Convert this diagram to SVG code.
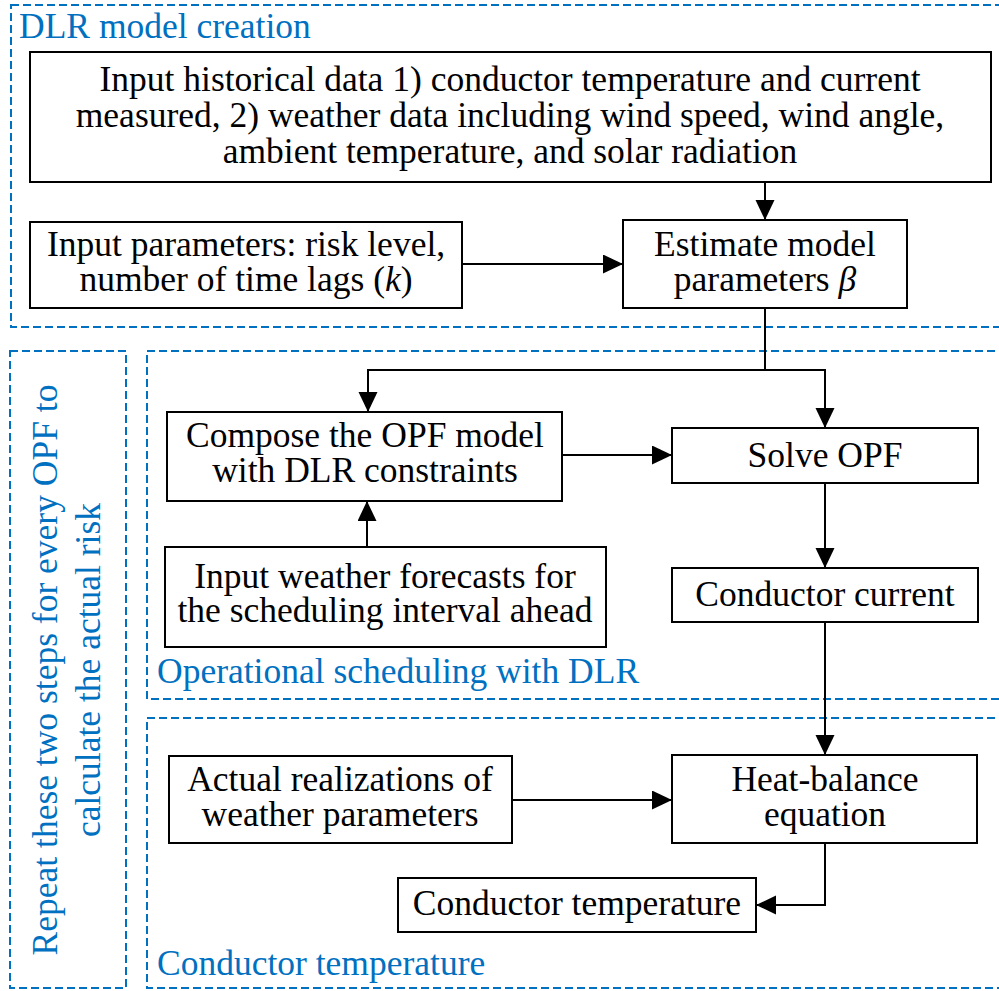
<svg xmlns="http://www.w3.org/2000/svg" width="999" height="991" viewBox="0 0 999 991">
<defs>
<marker id="ah" markerUnits="userSpaceOnUse" markerWidth="20" markerHeight="20" refX="20" refY="9.5" orient="auto"><path d="M0,0 L20,9.5 L0,19 z" fill="#000"/></marker>
</defs>
<rect width="999" height="991" fill="#fff"/>
<g id="groups" fill="none" stroke="#0070C0" stroke-width="2" stroke-dasharray="8 4">
<rect x="11" y="5" width="1000" height="322"/>
<rect x="10" y="351" width="116" height="637"/>
<rect x="147" y="351" width="870" height="348"/>
<rect x="147" y="718" width="870" height="270"/>
</g>
<g id="group-labels" fill="#0070C0">
<text font-family="Liberation Serif, serif" font-size="35.5" x="19" y="38">DLR model creation</text>
<text font-family="Liberation Serif, serif" font-size="35.5" x="157" y="683">Operational scheduling with DLR</text>
<text font-family="Liberation Serif, serif" font-size="35.5" x="157" y="975">Conductor temperature</text>
<text font-family="Liberation Serif, serif" font-size="35.5" text-anchor="middle" transform="translate(57,670) rotate(-90)">Repeat these two steps for every OPF to</text>
<text font-family="Liberation Serif, serif" font-size="35.5" text-anchor="middle" transform="translate(100,670) rotate(-90)">calculate the actual risk</text>
</g>
<g id="connectors" fill="none" stroke="#000" stroke-width="2">
<path d="M765,182 V220" marker-end="url(#ah)"/>
<path d="M462,264 H623" marker-end="url(#ah)"/>
<path d="M765,308 V370 H368 V412" marker-end="url(#ah)"/>
<path d="M765,370 H825 V428" marker-end="url(#ah)"/>
<path d="M562,455 H672" marker-end="url(#ah)"/>
<path d="M367,547 V501" marker-end="url(#ah)"/>
<path d="M825,483 V568" marker-end="url(#ah)"/>
<path d="M825,622 V755" marker-end="url(#ah)"/>
<path d="M512,800 H672" marker-end="url(#ah)"/>
<path d="M825,843 V905 H756" marker-end="url(#ah)"/>
</g>
<g id="historical">
<rect x="30" y="52" width="961" height="130" fill="#fff" stroke="#000" stroke-width="2"/>
<text font-family="Liberation Serif, serif" font-size="35.5" text-anchor="middle" x="510" y="91">Input historical data 1) conductor temperature and current</text>
<text font-family="Liberation Serif, serif" font-size="35.5" text-anchor="middle" x="510" y="127">measured, 2) weather data including wind speed, wind angle,</text>
<text font-family="Liberation Serif, serif" font-size="35.5" text-anchor="middle" x="510" y="163">ambient temperature, and solar radiation</text>
</g>
<g id="params">
<rect x="30" y="222" width="432" height="86" fill="#fff" stroke="#000" stroke-width="2"/>
<text font-family="Liberation Serif, serif" font-size="35.5" text-anchor="middle" x="246" y="256">Input parameters: risk level,</text>
<text font-family="Liberation Serif, serif" font-size="35.5" text-anchor="middle" x="246" y="291">number of time lags (<tspan font-style="italic">k</tspan>)</text>
</g>
<g id="estimate">
<rect x="623" y="220" width="284" height="88" fill="#fff" stroke="#000" stroke-width="2"/>
<text font-family="Liberation Serif, serif" font-size="35.5" text-anchor="middle" x="765" y="256">Estimate model</text>
<text font-family="Liberation Serif, serif" font-size="35.5" text-anchor="middle" x="765" y="291">parameters <tspan font-style="italic">&#946;</tspan></text>
</g>
<g id="compose">
<rect x="167" y="412" width="395" height="89" fill="#fff" stroke="#000" stroke-width="2"/>
<text font-family="Liberation Serif, serif" font-size="35.5" text-anchor="middle" x="365" y="447">Compose the OPF model</text>
<text font-family="Liberation Serif, serif" font-size="35.5" text-anchor="middle" x="365" y="482">with DLR constraints</text>
</g>
<g id="solve">
<rect x="672" y="428" width="306" height="55" fill="#fff" stroke="#000" stroke-width="2"/>
<text font-family="Liberation Serif, serif" font-size="35.5" text-anchor="middle" x="825" y="467">Solve OPF</text>
</g>
<g id="forecasts">
<rect x="165" y="547" width="441" height="100" fill="#fff" stroke="#000" stroke-width="2"/>
<text font-family="Liberation Serif, serif" font-size="35.5" text-anchor="middle" x="385" y="588">Input weather forecasts for</text>
<text font-family="Liberation Serif, serif" font-size="35.5" text-anchor="middle" x="385" y="622">the scheduling interval ahead</text>
</g>
<g id="current">
<rect x="672" y="568" width="306" height="54" fill="#fff" stroke="#000" stroke-width="2"/>
<text font-family="Liberation Serif, serif" font-size="35.5" text-anchor="middle" x="825" y="606">Conductor current</text>
</g>
<g id="actual">
<rect x="169" y="756" width="343" height="87" fill="#fff" stroke="#000" stroke-width="2"/>
<text font-family="Liberation Serif, serif" font-size="35.5" text-anchor="middle" x="340" y="791">Actual realizations of</text>
<text font-family="Liberation Serif, serif" font-size="35.5" text-anchor="middle" x="340" y="826">weather parameters</text>
</g>
<g id="heat">
<rect x="672" y="755" width="305" height="88" fill="#fff" stroke="#000" stroke-width="2"/>
<text font-family="Liberation Serif, serif" font-size="35.5" text-anchor="middle" x="825" y="791">Heat-balance</text>
<text font-family="Liberation Serif, serif" font-size="35.5" text-anchor="middle" x="825" y="826">equation</text>
</g>
<g id="temperature">
<rect x="398" y="878" width="358" height="54" fill="#fff" stroke="#000" stroke-width="2"/>
<text font-family="Liberation Serif, serif" font-size="35.5" text-anchor="middle" x="577" y="915">Conductor temperature</text>
</g>
</svg>
